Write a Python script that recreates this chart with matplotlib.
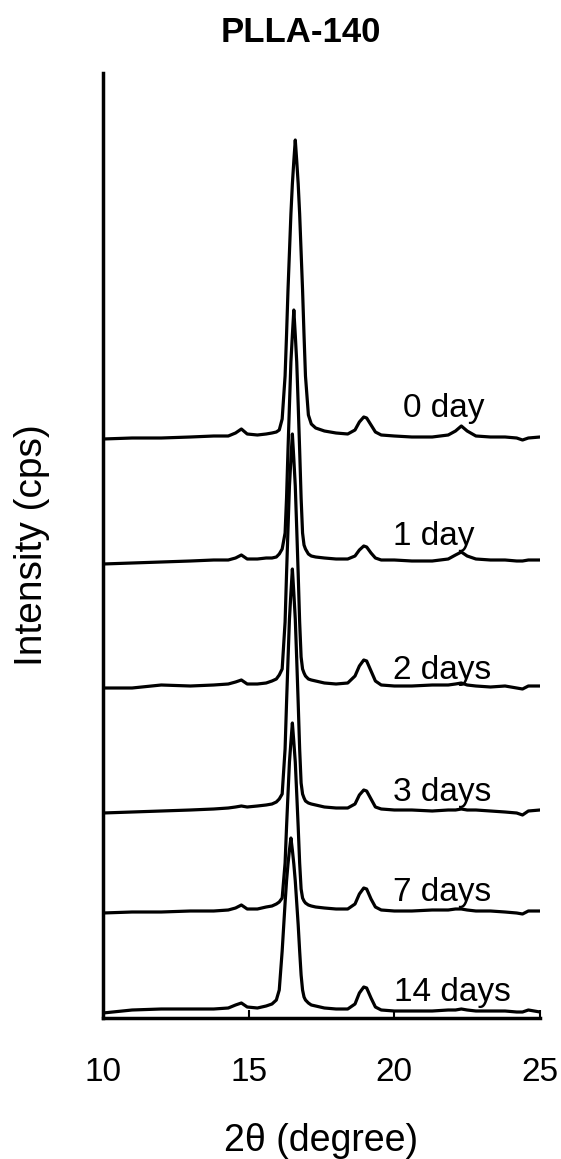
import matplotlib
matplotlib.use("Agg")
import matplotlib.pyplot as plt
import numpy as np

plt.rcParams['font.family'] = ['Liberation Sans', 'DejaVu Sans']

# 2theta grid (degree)
two_theta = [10.0, 11.0, 12.0, 13.0, 13.8, 14.3, 14.55, 14.75, 14.95, 15.3, 15.6, 15.8,
             15.95, 16.05, 16.15, 16.25, 16.3, 16.35, 16.4, 16.45, 16.5, 16.55, 16.6,
             16.65, 16.7, 16.75, 16.8, 16.85, 16.9, 16.95, 17.05, 17.15, 17.3, 17.6,
             18.0, 18.4, 18.65, 18.8, 18.95, 19.05, 19.2, 19.35, 19.55, 20.0, 20.6,
             21.3, 21.85, 22.1, 22.3, 22.5, 22.8, 23.3, 23.8, 24.2, 24.4, 24.6, 25.0]

labels = ["0 day", "1 day", "2 days", "3 days", "7 days", "14 days"]

# intensity (a.u.) above each pattern's own baseline
int_0d = [0, 1, 1, 2, 3, 3, 6, 10, 5, 4, 5, 6, 7, 9, 20, 63, 104, 149, 187, 225, 255, 278,
          299, 278, 255, 225, 187, 149, 104, 63, 24, 15, 11, 8, 6, 5, 9, 17, 22, 21, 14, 7,
          4, 3, 2, 2, 4, 8, 13, 8, 3, 2, 2, 1, -1, 1, 2]
int_1d = [0, 1, 2, 3, 4, 4, 6, 9, 5, 5, 6, 6, 7, 10, 15, 31, 66, 114, 159, 202, 229, 254,
          229, 202, 159, 114, 66, 31, 19, 15, 10, 8, 7, 6, 5, 5, 8, 14, 18, 17, 11, 6,
          4, 4, 3, 3, 5, 9, 12, 8, 5, 4, 4, 3, 3, 4, 4]
int_2d = [0, 0, 3, 2, 3, 4, 6, 8, 4, 4, 5, 7, 9, 13, 19, 66, 114, 159, 202, 229, 254, 229,
          202, 159, 114, 66, 31, 19, 15, 12, 9, 8, 7, 5, 4, 5, 12, 22, 28, 27, 17, 7,
          3, 2, 2, 3, 3, 4, 5, 3, 2, 1, 2, 0, -1, 2, 2]
int_3d = [0, 1, 2, 3, 4, 5, 6, 7, 6, 7, 8, 9, 11, 14, 19, 64, 110, 153, 194, 220, 244, 220,
          194, 153, 110, 64, 30, 19, 15, 12, 10, 9, 8, 6, 5, 5, 9, 18, 23, 22, 14, 6,
          4, 3, 3, 2, 3, 3, 4, 3, 3, 2, 1, 0, -2, 2, 3]
int_7d = [0, 1, 1, 2, 2, 3, 5, 8, 4, 4, 6, 7, 9, 11, 15, 50, 86, 119, 151, 171, 190, 171,
          151, 119, 86, 50, 24, 15, 12, 10, 8, 7, 6, 5, 4, 4, 9, 19, 25, 24, 14, 6,
          3, 2, 2, 3, 3, 4, 4, 3, 2, 2, 1, 0, -1, 2, 2]
int_14d = [0, 3, 4, 4, 4, 5, 8, 10, 6, 5, 7, 9, 13, 23, 62, 110, 132, 149, 163, 175, 163,
           149, 132, 110, 88, 62, 38, 23, 16, 13, 10, 8, 7, 5, 4, 4, 9, 20, 26, 25, 15, 6,
           3, 2, 2, 2, 3, 3, 4, 3, 2, 2, 2, 1, 1, 3, 1]

series = [int_0d, int_1d, int_2d, int_3d, int_7d, int_14d]
offsets = [579, 454, 330, 205, 105, 5]

# label anchor positions (left x in degree, y center)
label_x = [20.3, 19.96, 19.96, 19.96, 19.96, 20.0]
label_y = [610, 481, 348, 226, 126, 26]

fig = plt.figure(figsize=(5.61, 11.59), dpi=100)
ax = fig.add_axes([103/561, 1 - 1018/1159, (540 - 103)/561, (1018 - 73)/1159])

x = np.array(two_theta)
for vals, off in zip(series, offsets):
    ax.plot(x, np.array(vals) + off, color='black', lw=2.3,
            solid_joinstyle='round', solid_capstyle='round')

for lab, lx, ly in zip(labels, label_x, label_y):
    ax.text(lx, ly, lab, fontsize=24, ha='left', va='center', color='black')

ax.set_xlim(10, 25)
ax.set_ylim(0, 945)
ax.set_xticks([10, 15, 20, 25])
ax.set_xticklabels(["10", "15", "20", "25"])
ax.set_yticks([])
ax.tick_params(axis='x', direction='in', length=6, width=1.5, labelsize=24, pad=28)
for s in ['top', 'right']:
    ax.spines[s].set_visible(False)
ax.spines['left'].set_linewidth(2.5)
ax.spines['bottom'].set_linewidth(2.5)

ax.set_xlabel("2θ (degree)", fontsize=27, labelpad=25)
ax.set_ylabel("Intensity (cps)", fontsize=28, labelpad=38)
ax.set_title("PLLA-140", fontsize=25, fontweight='bold', x=(301 - 103)/437, pad=22)

fig.savefig("out.png", dpi=100)
